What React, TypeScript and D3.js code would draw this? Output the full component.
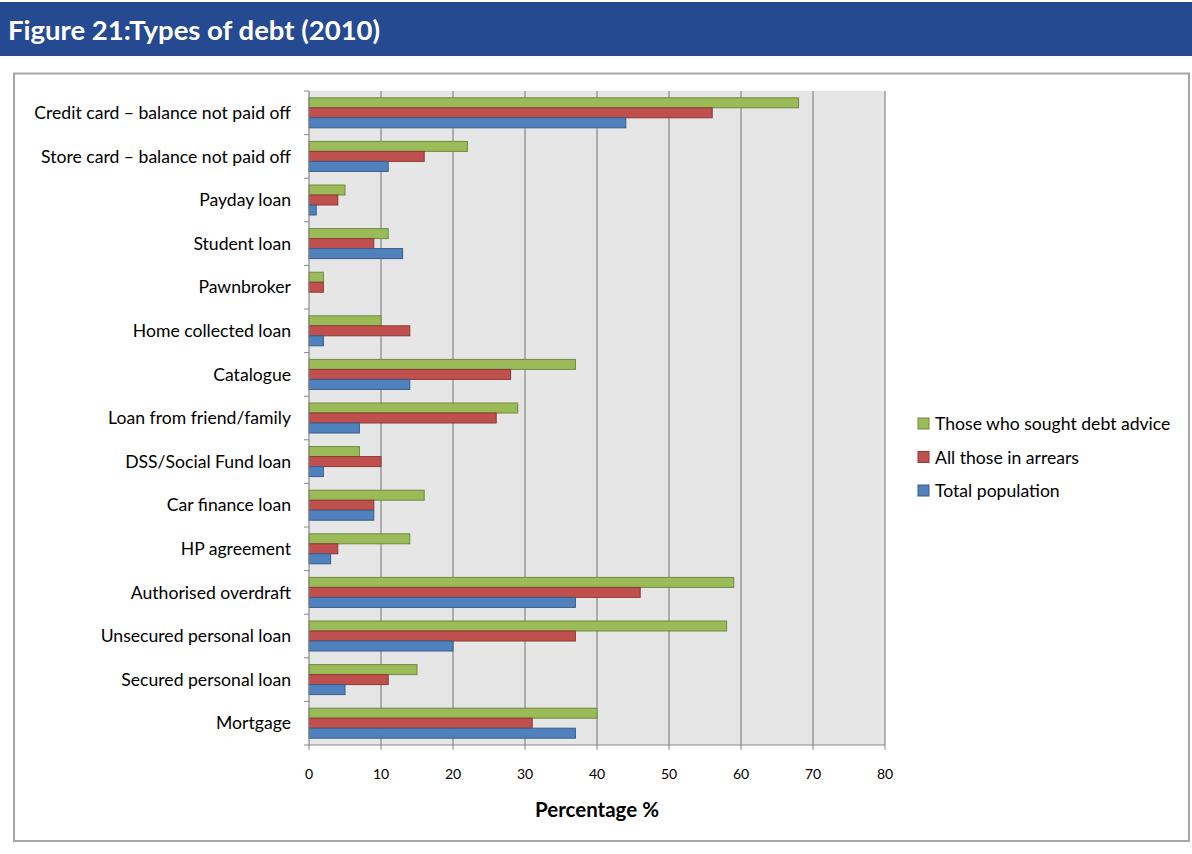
import React from "react";
import * as d3 from "d3";

const categories = [
  "Credit card – balance not paid off",
  "Store card – balance not paid off",
  "Payday loan",
  "Student loan",
  "Pawnbroker",
  "Home collected loan",
  "Catalogue",
  "Loan from friend/family",
  "DSS/Social Fund loan",
  "Car finance loan",
  "HP agreement",
  "Authorised overdraft",
  "Unsecured personal loan",
  "Secured personal loan",
  "Mortgage",
];
const soughtAdvice = [68, 22, 5, 11, 2, 10, 37, 29, 7, 16, 14, 59, 58, 15, 40];
const inArrears = [56, 16, 4, 9, 2, 14, 28, 26, 10, 9, 4, 46, 37, 11, 31];
const totalPop = [44, 11, 1, 13, 0, 2, 14, 7, 2, 9, 3, 37, 20, 5, 37];
const xTicks = [0, 10, 20, 30, 40, 50, 60, 70, 80];
const seriesNames = ["Those who sought debt advice", "All those in arrears", "Total population"];
const seriesFill = ["#9BBB59", "#C0504D", "#4F81BD"];
const seriesStroke = ["#71893F", "#8C3836", "#385D8A"];

export default function App() {
  const W = 1192, H = 854;
  const left = 309, right = 885, top = 91, bottom = 745;
  const x = d3.scaleLinear().domain([0, 80]).range([left, right]);
  const y = d3.scaleBand().domain(categories).range([top, bottom]);
  const inner = d3.scaleBand().domain(["0", "1", "2"]).range([0, 30]);
  const offset = (y.bandwidth() - 30) / 2;
  const series = [soughtAdvice, inArrears, totalPop];
  const font = "Lato, 'Open Sans', sans-serif";

  return (
    <svg width={W} height={H} style={{ position: "absolute", left: 0, top: 0, display: "block" }}>
      <rect x={0} y={0} width={W} height={H} fill="#fff" />
      <rect x={0} y={2} width={W} height={54} fill="#254A91" />
      <text x={8} y={40} fill="#fff" fontFamily={font} fontWeight={700} fontSize={27.5}>
        Figure 21:Types of debt (2010)
      </text>
      <rect x={14} y={73.5} width={1175} height={767.5} fill="#fff" stroke="#A6A6A6" strokeWidth={2} />
      <rect x={left} y={top} width={right - left} height={bottom - top} fill="#E6E6E6" />
      {xTicks.slice(1).map((t) => (
        <line key={t} x1={x(t)} x2={x(t)} y1={top} y2={bottom} stroke="#878787" strokeWidth={1.2} />
      ))}
      {series.map((vals, si) =>
        categories.map((c, ci) => {
          const by = (y(c) as number) + offset + (inner(String(si)) as number);
          const w = x(vals[ci]) - x(0);
          if (w <= 0) return null;
          return (
            <rect
              key={si + "-" + ci}
              x={x(0)}
              y={by}
              width={w}
              height={inner.bandwidth()}
              fill={seriesFill[si]}
              stroke={seriesStroke[si]}
              strokeWidth={1}
            />
          );
        })
      )}
      {/* y axis */}
      <line x1={left} x2={left} y1={top} y2={bottom} stroke="#878787" strokeWidth={1.2} />
      {categories.map((c, i) => (
        <line key={"yt" + i} x1={left - 5} x2={left} y1={y(c) as number} y2={y(c) as number} stroke="#878787" />
      ))}
      <line x1={left - 5} x2={left} y1={bottom} y2={bottom} stroke="#878787" />
      {categories.map((c) => (
        <text
          key={"yl" + c}
          x={291}
          y={(y(c) as number) + y.bandwidth() / 2}
          dy="0.35em"
          textAnchor="end"
          fontFamily={font}
          fontSize={17.6}
          fill="#000"
        >
          {c}
        </text>
      ))}
      {/* x axis */}
      <line x1={left} x2={right} y1={bottom} y2={bottom} stroke="#878787" strokeWidth={1.2} />
      {xTicks.map((t) => (
        <g key={"xt" + t}>
          <line x1={x(t)} x2={x(t)} y1={bottom} y2={bottom + 5} stroke="#878787" />
          <text x={x(t)} y={779} textAnchor="middle" fontFamily={font} fontSize={14} fill="#000">
            {t}
          </text>
        </g>
      ))}
      <text x={597} y={817} textAnchor="middle" fontFamily={font} fontWeight={700} fontSize={20.5} fill="#000">
        Percentage %
      </text>
      {/* legend */}
      {seriesNames.map((n, i) => (
        <g key={n}>
          <rect x={918} y={418 + i * 33.5} width={11} height={11} fill={seriesFill[i]} stroke={seriesStroke[i]} />
          <text x={935} y={424 + i * 33.5} dy="0.35em" fontFamily={font} fontSize={17.6} fill="#000">
            {n}
          </text>
        </g>
      ))}
    </svg>
  );
}
